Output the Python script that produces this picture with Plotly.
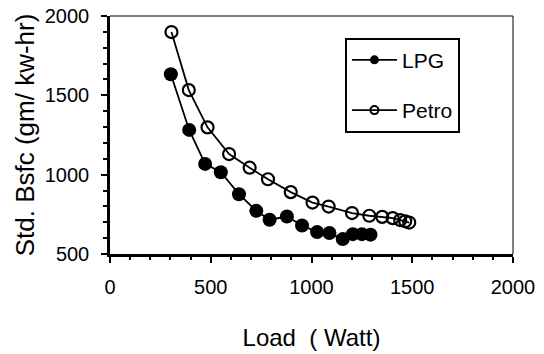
import plotly.graph_objects as go

lpg_load = [302, 393, 472, 550, 640, 726, 792, 878, 953, 1028, 1089, 1155, 1205, 1250, 1293]
lpg_bsfc = [1633, 1282, 1068, 1015, 877, 772, 716, 736, 680, 638, 632, 594, 625, 625, 622]

petro_load = [305, 391, 484, 591, 693, 784, 897, 1005, 1085, 1201, 1287, 1351, 1403, 1440, 1465, 1485]
petro_bsfc = [1899, 1533, 1298, 1130, 1044, 971, 890, 824, 799, 758, 741, 734, 726, 714, 706, 698]

x_ticks = [0, 500, 1000, 1500, 2000]
y_ticks = [500, 1000, 1500, 2000]

FONT = "Liberation Sans, Arial, sans-serif"

fig = go.Figure()
fig.add_trace(go.Scatter(x=lpg_load, y=lpg_bsfc, mode="lines+markers", showlegend=False,
                         line=dict(color="black", width=1.8),
                         marker=dict(symbol="circle", size=14, color="black",
                                     line=dict(color="black", width=0))))
fig.add_trace(go.Scatter(x=petro_load, y=petro_bsfc, mode="lines+markers", showlegend=False,
                         line=dict(color="black", width=1.8),
                         marker=dict(symbol="circle-open", size=12, color="black",
                                     line=dict(color="black", width=2.2))))
# legend-only entries
fig.add_trace(go.Scatter(x=[None], y=[None], mode="lines+markers", name="LPG", legendgroup="a",
                         line=dict(color="black", width=1.8),
                         marker=dict(symbol="circle", size=9, color="black")))
fig.add_trace(go.Scatter(x=[None], y=[None], mode="lines+markers", name="Petro", legendgroup="b",
                         line=dict(color="black", width=1.8),
                         marker=dict(symbol="circle-open", size=8, color="black",
                                     line=dict(color="black", width=2))))

fig.update_layout(
    width=544, height=354,
    margin=dict(l=110, r=31, t=16, b=100, autoexpand=False),
    paper_bgcolor="white", plot_bgcolor="white",
    font=dict(family=FONT, size=20, color="black"),
    legend=dict(x=0.583, y=0.909, xanchor="left", yanchor="top",
                bordercolor="black", borderwidth=2, bgcolor="white",
                font=dict(size=21), itemwidth=45, tracegroupgap=20,
                traceorder="grouped"),
    shapes=[
        dict(type="line", xref="paper", yref="paper", x0=0, x1=1, y0=1, y1=1,
             line=dict(color="black", width=1)),
        dict(type="line", xref="paper", yref="paper", x0=1, x1=1, y0=0, y1=1,
             line=dict(color="black", width=1)),
    ],
)
fig.update_xaxes(range=[0, 2000], tickvals=x_ticks, ticktext=[str(v) for v in x_ticks],
                 automargin=False, ticklabeloverflow="allow",
                 showgrid=False, zeroline=False, showline=True, linecolor="black", linewidth=2.5,
                 ticks="outside", ticklen=6, tickwidth=1.5, tickcolor="black",
                 ticklabelstandoff=7,
                 minor=dict(dtick=100, ticks="outside", ticklen=3, tickwidth=1.5, tickcolor="black"),
                 title=dict(text="Load  ( Watt)", standoff=33, font=dict(size=24)))
fig.update_yaxes(range=[500, 2000], tickvals=y_ticks, ticktext=[str(v) for v in y_ticks],
                 automargin=False, ticklabeloverflow="allow",
                 showgrid=False, zeroline=False, showline=True, linecolor="black", linewidth=2.5,
                 ticks="outside", ticklen=6, tickwidth=1.5, tickcolor="black",
                 ticklabelstandoff=8,
                 minor=dict(dtick=100, ticks="outside", ticklen=4, tickwidth=1.5, tickcolor="black"),
                 title=dict(text="Std. Bsfc (gm/ kw-hr)", standoff=3, font=dict(size=26)))

fig.write_html("out.html", config={"displayModeBar": False},
               post_script="document.body.style.margin='0';document.body.style.overflow='hidden';")
